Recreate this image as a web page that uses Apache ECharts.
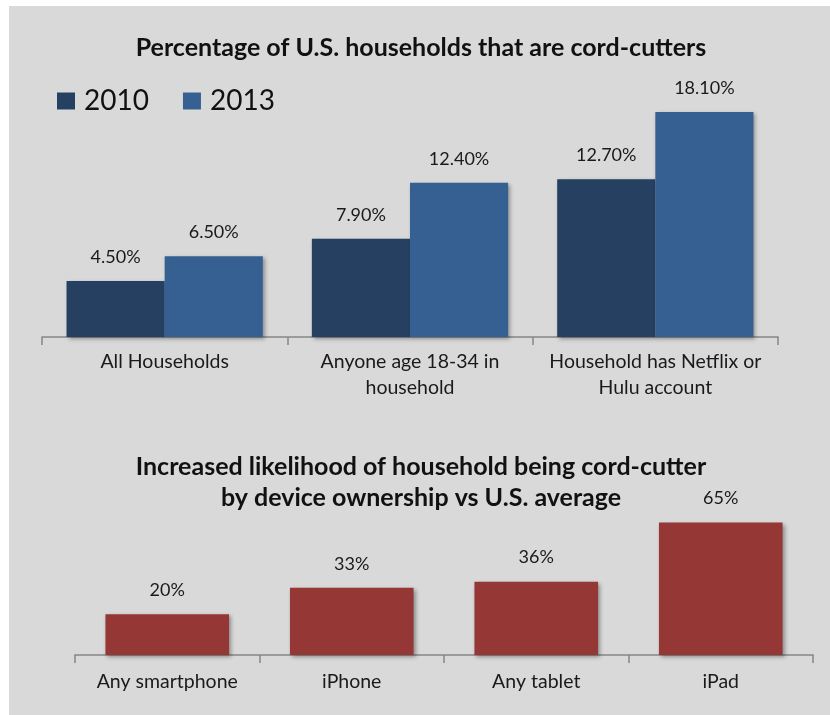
<!DOCTYPE html>
<html><head><meta charset="utf-8">
<script src="https://cdn.jsdelivr.net/npm/echarts@6/dist/echarts.min.js"></script>
<style>html,body{margin:0;padding:0;background:#fff}#c{width:830px;height:715px}</style>
</head><body><div id="c"></div>
<script>
var householdCategories = ['All Households', 'Anyone age 18-34 in\nhousehold', 'Household has Netflix or\nHulu account'];
var values2010 = [4.5, 7.9, 12.7];
var values2013 = [6.5, 12.4, 18.1];
var deviceCategories = ['Any smartphone', 'iPhone', 'Any tablet', 'iPad'];
var deviceValues = [20, 33, 36, 65];

var FONT = 'Lato';
var chart = echarts.init(document.getElementById('c'));
var shadow = {shadowBlur: 4, shadowColor: 'rgba(0,0,0,0.35)', shadowOffsetX: 2, shadowOffsetY: 2};
var axisCommon = {
  type: 'category',
  axisLine: {lineStyle: {color: '#868686', width: 1.5}},
  axisTick: {show: true, length: 8, lineStyle: {color: '#868686', width: 1.5}},
  axisLabel: {color: '#1a1a1a', fontFamily: FONT, fontSize: 19.5, lineHeight: 26, interval: 0, hideOverlap: false}
};
var labelCommon = {show: true, position: 'top', distance: 15, fontFamily: FONT, fontSize: 18, color: '#1a1a1a'};
chart.setOption({
  animation: false,
  graphic: [{type: 'rect', z: -10, shape: {x: 9, y: 6, width: 821, height: 709}, style: {fill: '#d9d9d9'}}],
  title: [
    {text: 'Percentage of U.S. households that are cord-cutters', left: 416, textAlign: 'center', top: 30,
     textStyle: {fontFamily: FONT, fontWeight: 'bold', fontSize: 25, color: '#111'}},
    {text: 'Increased likelihood of household being cord-cutter\nby device ownership vs U.S. average', left: 416, textAlign: 'center', top: 446,
     textStyle: {fontFamily: FONT, fontWeight: 'bold', fontSize: 25, lineHeight: 31, color: '#111'}}
  ],
  legend: {
    left: 52, top: 82, itemWidth: 18, itemHeight: 17, itemGap: 34, icon: 'rect',
    textStyle: {fontFamily: FONT, fontSize: 28, color: '#111', padding: [0, 0, 0, 4]},
    data: ['2010', '2013']
  },
  grid: [
    {left: 42, right: 52, top: 88.4, bottom: 715 - 337},
    {left: 75, right: 17, top: 492, bottom: 715 - 655}
  ],
  xAxis: [
    Object.assign({}, axisCommon, {gridIndex: 0, data: householdCategories, axisLabel: Object.assign({}, axisCommon.axisLabel, {margin: 12})}),
    Object.assign({}, axisCommon, {gridIndex: 1, data: deviceCategories, axisLabel: Object.assign({}, axisCommon.axisLabel, {margin: 14})})
  ],
  yAxis: [
    {type: 'value', gridIndex: 0, min: 0, max: 20, show: false},
    {type: 'value', gridIndex: 1, min: 0, max: 80, show: false}
  ],
  series: [
    {name: '2010', type: 'bar', xAxisIndex: 0, yAxisIndex: 0, data: values2010, barGap: '0%', barCategoryGap: '20%',
     itemStyle: Object.assign({color: '#254061'}, shadow),
     label: Object.assign({}, labelCommon, {formatter: function (p) { return p.value.toFixed(2) + '%'; }})},
    {name: '2013', type: 'bar', xAxisIndex: 0, yAxisIndex: 0, data: values2013, barGap: '0%', barCategoryGap: '20%',
     itemStyle: Object.assign({color: '#376092'}, shadow),
     label: Object.assign({}, labelCommon, {formatter: function (p) { return p.value.toFixed(2) + '%'; }})},
    {name: 'device', type: 'bar', xAxisIndex: 1, yAxisIndex: 1, data: deviceValues, barCategoryGap: '33%',
     itemStyle: Object.assign({color: '#953735'}, shadow),
     label: Object.assign({}, labelCommon, {formatter: function (p) { return p.value + '%'; }})}
  ]
});
</script></body></html>
